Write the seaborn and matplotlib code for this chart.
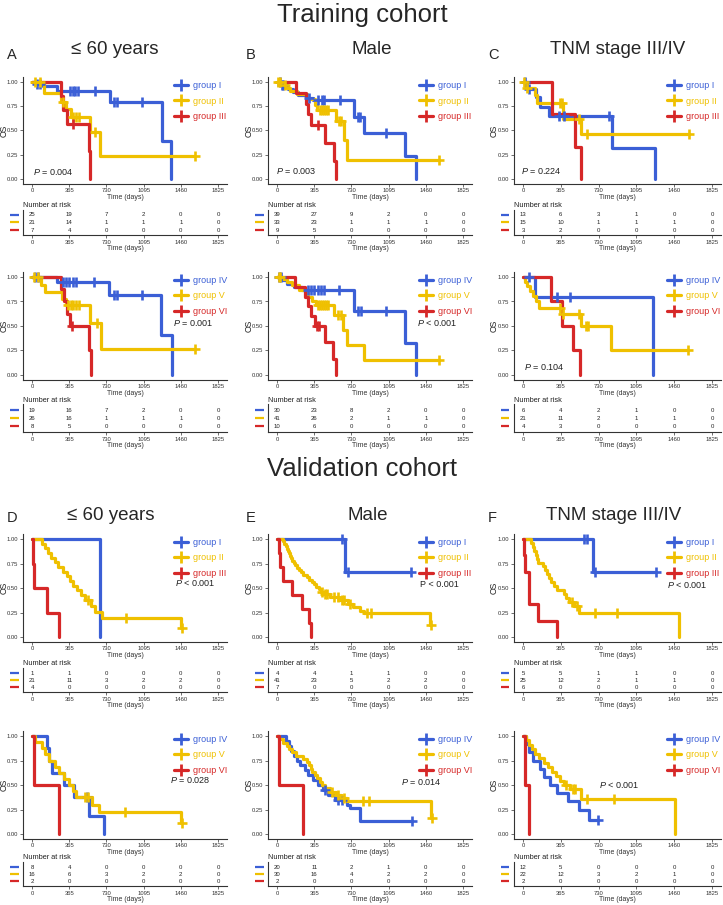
import numpy as np
import pandas as pd
import seaborn as sns
import matplotlib.pyplot as plt
from matplotlib.lines import Line2D
from matplotlib.transforms import blended_transform_factory

# ---------------- data ----------------
TICKS = [0, 365, 730, 1095, 1460, 1825]

# Training cohort, <= 60 years, groups I-III
A1_I_t = [0, 35, 110, 245, 768, 1275, 1364]
A1_I_s = [1, 0.98, 0.955, 0.91, 0.79, 0.39, 0]
A1_I_c = [49, 75, 376, 402, 425, 448, 621, 801, 834, 1079]
A1_II_t = [0, 120, 280, 330, 380, 570, 670]
A1_II_s = [1, 0.89, 0.79, 0.72, 0.64, 0.48, 0.24]
A1_II_c = [30, 80, 300, 400, 430, 460, 620, 1600]
A1_III_t = [0, 280, 300, 340, 555, 570]
A1_III_s = [1, 0.857, 0.714, 0.571, 0.286, 0]
A1_III_c = [402]
A1_risk = [[25, 19, 7, 2, 0, 0], [21, 14, 1, 1, 1, 0], [7, 4, 0, 0, 0, 0]]

# Training cohort, <= 60 years, groups IV-VI
A2_IV_t = [0, 250, 760, 1270, 1370]
A2_IV_s = [1, 0.947, 0.82, 0.41, 0]
A2_IV_c = [30, 60, 300, 330, 360, 400, 430, 610, 800, 830, 1080]
A2_V_t = [0, 90, 125, 290, 330, 565, 680]
A2_V_s = [1, 0.92, 0.85, 0.78, 0.71, 0.53, 0.265]
A2_V_c = [20, 60, 350, 380, 400, 430, 460, 640, 1600]
A2_VI_t = [0, 280, 310, 340, 370, 555, 575]
A2_VI_s = [1, 0.875, 0.75, 0.625, 0.5, 0.25, 0]
A2_VI_c = [390]
A2_risk = [[19, 16, 7, 2, 0, 0], [26, 16, 1, 1, 1, 0], [8, 5, 0, 0, 0, 0]]

# Training cohort, male, groups I-III
B1_I_t = [0, 40, 70, 110, 160, 210, 300, 350, 760, 850, 1260, 1360]
B1_I_s = [1, 0.974, 0.949, 0.923, 0.897, 0.87, 0.84, 0.81, 0.64, 0.47, 0.235, 0]
B1_I_c = [25, 45, 60, 310, 400, 440, 460, 620, 790, 810, 1065]
B1_II_t = [0, 60, 95, 130, 200, 290, 370, 390, 580, 660, 685]
B1_II_s = [1, 0.97, 0.94, 0.91, 0.88, 0.82, 0.76, 0.71, 0.60, 0.40, 0.20]
B1_II_c = [10, 30, 80, 420, 440, 460, 480, 500, 610, 630, 1590]
B1_III_t = [0, 185, 285, 300, 330, 475, 555, 575]
B1_III_s = [1, 0.889, 0.778, 0.667, 0.556, 0.37, 0.185, 0]
B1_III_c = [400]
B1_risk = [[39, 27, 9, 2, 0, 0], [33, 23, 1, 1, 1, 0], [9, 5, 0, 0, 0, 0]]

# Training cohort, male, groups IV-VI
B2_IV_t = [0, 50, 100, 170, 250, 760, 1260, 1360]
B2_IV_s = [1, 0.967, 0.933, 0.9, 0.867, 0.65, 0.325, 0]
B2_IV_c = [20, 40, 300, 330, 360, 400, 430, 460, 610, 790, 820, 1070]
B2_V_t = [0, 60, 100, 150, 220, 300, 340, 380, 560, 650, 685, 850]
B2_V_s = [1, 0.975, 0.95, 0.92, 0.87, 0.80, 0.76, 0.71, 0.61, 0.46, 0.31, 0.155]
B2_V_c = [15, 30, 400, 420, 440, 460, 480, 500, 600, 630, 1590]
B2_VI_t = [0, 180, 270, 300, 330, 370, 475, 550, 575]
B2_VI_s = [1, 0.9, 0.8, 0.7, 0.6, 0.5, 0.333, 0.167, 0]
B2_VI_c = [390, 410]
B2_risk = [[30, 23, 8, 2, 0, 0], [41, 26, 2, 1, 1, 0], [10, 6, 0, 0, 0, 0]]

# Training cohort, TNM III/IV, groups I-III
C1_I_t = [0, 40, 130, 165, 250, 860, 1270]
C1_I_s = [1, 0.923, 0.846, 0.74, 0.646, 0.323, 0]
C1_I_c = [15, 55, 350, 395, 830]
C1_II_t = [0, 25, 120, 140, 390, 560]
C1_II_s = [1, 0.933, 0.867, 0.78, 0.62, 0.465]
C1_II_c = [10, 40, 360, 375, 545, 620, 1600]
C1_III_t = [0, 280, 500, 560]
C1_III_s = [1, 0.667, 0.333, 0]
C1_III_c = []
C1_risk = [[13, 6, 3, 1, 0, 0], [15, 10, 1, 1, 1, 0], [3, 2, 0, 0, 0, 0]]

# Training cohort, TNM III/IV, groups IV-VI
C2_IV_t = [0, 120, 1260]
C2_IV_s = [1, 0.8, 0]
C2_IV_c = [60, 330, 450]
C2_V_t = [0, 15, 40, 70, 100, 130, 150, 380, 560, 850]
C2_V_s = [1, 0.952, 0.905, 0.857, 0.81, 0.76, 0.68, 0.62, 0.50, 0.25]
C2_V_c = [360, 390, 540, 610, 630, 1590]
C2_VI_t = [0, 270, 380, 480, 555]
C2_VI_s = [1, 0.75, 0.5, 0.25, 0]
C2_VI_c = []
C2_risk = [[6, 4, 2, 1, 0, 0], [21, 11, 2, 1, 1, 0], [4, 3, 0, 0, 0, 0]]

# Validation cohort, <= 60 years, groups I-III
D1_I_t = [0, 668]
D1_I_s = [1, 0]
D1_I_c = []
D1_II_t = [0, 95, 130, 160, 190, 225, 260, 300, 340, 375, 400, 440, 480, 520, 580, 620, 690, 1460]
D1_II_s = [1, 0.952, 0.905, 0.857, 0.81, 0.762, 0.714, 0.667, 0.619, 0.571, 0.524, 0.476,
           0.429, 0.381, 0.318, 0.254, 0.19, 0.095]
D1_II_c = [545, 920, 1470]
D1_III_t = [0, 10, 18, 147, 262]
D1_III_s = [1, 0.75, 0.5, 0.25, 0]
D1_III_c = []
D1_risk = [[1, 1, 0, 0, 0, 0], [21, 11, 3, 2, 2, 0], [4, 0, 0, 0, 0, 0]]

# Validation cohort, <= 60 years, groups IV-VI
D2_IV_t = [0, 147, 170, 196, 310, 408, 555, 708]
D2_IV_s = [1, 0.875, 0.75, 0.625, 0.5, 0.375, 0.1875, 0]
D2_IV_c = [540]
D2_V_t = [0, 25, 95, 130, 165, 230, 265, 310, 360, 400, 430, 590, 655, 1465]
D2_V_s = [1, 0.9375, 0.875, 0.8125, 0.75, 0.6875, 0.625, 0.5625, 0.5, 0.4375, 0.375, 0.30, 0.225, 0.1125]
D2_V_c = [520, 545, 915, 1470]
D2_VI_t = [0, 16, 261]
D2_VI_s = [1, 0.5, 0]
D2_VI_c = []
D2_risk = [[8, 4, 0, 0, 0, 0], [16, 6, 3, 2, 2, 0], [2, 0, 0, 0, 0, 0]]

# Validation cohort, male, groups I-III
E1_I_t = [0, 668]
E1_I_s = [1, 0.667]
E1_I_c = [640, 700, 1310]
E1_II_t = [0, 60, 72, 85, 95, 105, 115, 125, 137, 150, 165, 180, 200, 218, 240, 260, 290, 310,
           340, 360, 385, 410, 430, 460, 520, 610, 700, 750, 815, 850, 1505]
E1_II_s = [1, 0.976, 0.951, 0.927, 0.902, 0.878, 0.854, 0.829, 0.805, 0.78, 0.756, 0.732, 0.707,
           0.683, 0.659, 0.634, 0.61, 0.585, 0.561, 0.537, 0.512, 0.488, 0.463, 0.44, 0.41,
           0.375, 0.34, 0.305, 0.27, 0.24, 0.12]
E1_II_c = [440, 470, 490, 560, 600, 640, 660, 720, 880, 920, 1515]
E1_III_t = [0, 15, 30, 55, 150, 250, 315, 330]
E1_III_s = [1, 0.857, 0.714, 0.571, 0.429, 0.286, 0.143, 0]
E1_III_c = []
E1_risk = [[4, 4, 1, 1, 0, 0], [41, 23, 5, 2, 2, 0], [7, 0, 0, 0, 0, 0]]

# Validation cohort, male, groups IV-VI
E2_IV_t = [0, 90, 120, 140, 170, 200, 230, 270, 300, 350, 400, 450, 500, 565, 690, 720, 810]
E2_IV_s = [1, 0.95, 0.90, 0.85, 0.80, 0.75, 0.70, 0.65, 0.60, 0.55, 0.50, 0.45, 0.40, 0.35,
           0.30, 0.265, 0.133]
E2_IV_c = [470, 600, 640, 1320]
E2_V_t = [0, 20, 60, 95, 120, 150, 190, 260, 290, 310, 330, 345, 370, 390, 420, 440, 470, 520,
          580, 630, 690, 1515]
E2_V_s = [1, 0.967, 0.933, 0.90, 0.867, 0.833, 0.80, 0.767, 0.733, 0.70, 0.667, 0.633, 0.60,
          0.567, 0.533, 0.50, 0.467, 0.433, 0.40, 0.37, 0.333, 0.167]
E2_V_c = [540, 600, 660, 840, 900, 1525]
E2_VI_t = [0, 16, 253]
E2_VI_s = [1, 0.5, 0]
E2_VI_c = []
E2_risk = [[20, 11, 2, 1, 0, 0], [30, 16, 4, 2, 2, 0], [2, 0, 0, 0, 0, 0]]

# Validation cohort, TNM III/IV, groups I-III
F1_I_t = [0, 672]
F1_I_s = [1, 0.667]
F1_I_c = [590, 620, 700, 1280]
F1_II_t = [0, 80, 95, 110, 125, 135, 145, 190, 210, 235, 255, 275, 300, 330, 400, 415, 440,
           490, 540, 1505]
F1_II_s = [1, 0.96, 0.92, 0.88, 0.84, 0.80, 0.76, 0.72, 0.68, 0.64, 0.60, 0.56, 0.52, 0.48,
           0.44, 0.40, 0.36, 0.32, 0.24, 0]
F1_II_c = [470, 520, 700, 910]
F1_III_t = [0, 8, 15, 60, 145, 325]
F1_III_s = [1, 0.833, 0.667, 0.333, 0.167, 0]
F1_III_c = []
F1_risk = [[5, 5, 1, 1, 0, 0], [25, 12, 2, 1, 1, 0], [6, 0, 0, 0, 0, 0]]

# Validation cohort, TNM III/IV, groups IV-VI
F2_IV_t = [0, 30, 60, 100, 160, 200, 260, 330, 430, 540, 640]
F2_IV_s = [1, 0.917, 0.833, 0.75, 0.667, 0.583, 0.5, 0.417, 0.333, 0.25, 0.14]
F2_IV_c = [720]
F2_V_t = [0, 30, 60, 90, 120, 150, 200, 240, 280, 320, 360, 400, 450, 560, 1470]
F2_V_s = [1, 0.955, 0.909, 0.864, 0.818, 0.773, 0.727, 0.682, 0.636, 0.591, 0.545, 0.50,
          0.455, 0.36, 0]
F2_V_c = [420, 480, 500, 620, 880]
F2_VI_t = [0, 20, 55]
F2_VI_s = [1, 0.5, 0]
F2_VI_c = []
F2_risk = [[12, 5, 0, 0, 0, 0], [22, 12, 3, 2, 1, 0], [2, 0, 0, 0, 0, 0]]

P_TEXT = {
    'A1': '$P$ = 0.004', 'A2': '$P$ = 0.001', 'B1': '$P$ = 0.003', 'B2': '$P$ < 0.001',
    'C1': '$P$ = 0.224', 'C2': '$P$ = 0.104', 'D1': '$P$ < 0.001', 'D2': '$P$ = 0.028',
    'E1': 'P < 0.001', 'E2': '$P$ = 0.014', 'F1': '$P$ < 0.001', 'F2': '$P$ < 0.001',
}
LABELS_1 = ['group I', 'group II', 'group III']
LABELS_2 = ['group IV', 'group V', 'group VI']

# ---------------- style ----------------
COLORS = ['#3B5FD6', '#EFC000', '#D62828']
W, H = 723, 905

sns.set_theme(style='ticks')
plt.rcParams['font.family'] = ['Liberation Sans', 'DejaVu Sans']
plt.rcParams['mathtext.fontset'] = 'custom'
plt.rcParams['mathtext.rm'] = 'Liberation Sans'
plt.rcParams['mathtext.it'] = 'Liberation Sans:italic'

fig = plt.figure(figsize=(W / 100, H / 100), dpi=100)


def box(l, t, r, b):
    return [l / W, 1 - b / H, (r - l) / W, (b - t) / H]


COLS = [(32, 218), (277, 463), (523, 712)]          # px of day 0 / day 1825
KM_ROWS = [(82, 179), (277, 375), (539, 637), (736, 834)]   # px of OS 1.00 / 0.00
TAB_ROWS = [(215, 230, 235), (410, 426, 432), (673, 687, 692), (867, 881, 886)]
XLIM = (-91.25, 1916.25)

# P-value position in axes fraction per panel
P_POS = {'A1': (0.05, 0.11), 'A2': (0.735, 0.53), 'B1': (0.04, 0.12), 'B2': (0.73, 0.53),
         'C1': (0.035, 0.12), 'C2': (0.05, 0.12), 'D1': (0.745, 0.55), 'D2': (0.72, 0.55),
         'E1': (0.745, 0.53), 'E2': (0.65, 0.53), 'F1': (0.74, 0.53), 'F2': (0.41, 0.50)}

PANELS = [
    ('A1', 0, 0, [(A1_I_t, A1_I_s, A1_I_c), (A1_II_t, A1_II_s, A1_II_c), (A1_III_t, A1_III_s, A1_III_c)], A1_risk, LABELS_1),
    ('A2', 0, 1, [(A2_IV_t, A2_IV_s, A2_IV_c), (A2_V_t, A2_V_s, A2_V_c), (A2_VI_t, A2_VI_s, A2_VI_c)], A2_risk, LABELS_2),
    ('B1', 1, 0, [(B1_I_t, B1_I_s, B1_I_c), (B1_II_t, B1_II_s, B1_II_c), (B1_III_t, B1_III_s, B1_III_c)], B1_risk, LABELS_1),
    ('B2', 1, 1, [(B2_IV_t, B2_IV_s, B2_IV_c), (B2_V_t, B2_V_s, B2_V_c), (B2_VI_t, B2_VI_s, B2_VI_c)], B2_risk, LABELS_2),
    ('C1', 2, 0, [(C1_I_t, C1_I_s, C1_I_c), (C1_II_t, C1_II_s, C1_II_c), (C1_III_t, C1_III_s, C1_III_c)], C1_risk, LABELS_1),
    ('C2', 2, 1, [(C2_IV_t, C2_IV_s, C2_IV_c), (C2_V_t, C2_V_s, C2_V_c), (C2_VI_t, C2_VI_s, C2_VI_c)], C2_risk, LABELS_2),
    ('D1', 0, 2, [(D1_I_t, D1_I_s, D1_I_c), (D1_II_t, D1_II_s, D1_II_c), (D1_III_t, D1_III_s, D1_III_c)], D1_risk, LABELS_1),
    ('D2', 0, 3, [(D2_IV_t, D2_IV_s, D2_IV_c), (D2_V_t, D2_V_s, D2_V_c), (D2_VI_t, D2_VI_s, D2_VI_c)], D2_risk, LABELS_2),
    ('E1', 1, 2, [(E1_I_t, E1_I_s, E1_I_c), (E1_II_t, E1_II_s, E1_II_c), (E1_III_t, E1_III_s, E1_III_c)], E1_risk, LABELS_1),
    ('E2', 1, 3, [(E2_IV_t, E2_IV_s, E2_IV_c), (E2_V_t, E2_V_s, E2_V_c), (E2_VI_t, E2_VI_s, E2_VI_c)], E2_risk, LABELS_2),
    ('F1', 2, 2, [(F1_I_t, F1_I_s, F1_I_c), (F1_II_t, F1_II_s, F1_II_c), (F1_III_t, F1_III_s, F1_III_c)], F1_risk, LABELS_1),
    ('F2', 2, 3, [(F2_IV_t, F2_IV_s, F2_IV_c), (F2_V_t, F2_V_s, F2_V_c), (F2_VI_t, F2_VI_s, F2_VI_c)], F2_risk, LABELS_2),
]

AX_COLOR = '#333333'


def style_axis(ax):
    for sp in ['top', 'right']:
        ax.spines[sp].set_visible(False)
    for sp in ['left', 'bottom']:
        ax.spines[sp].set_linewidth(0.8)
        ax.spines[sp].set_color(AX_COLOR)
    ax.tick_params(labelsize=4.2, length=2, width=0.5, pad=1.3, colors=AX_COLOR)


def draw_km(ax, t, s, c, color):
    tt, ss = list(t), list(s)
    if c and max(c) > tt[-1]:
        tt.append(max(c))
        ss.append(ss[-1])
    df = pd.DataFrame({'time': tt, 'surv': ss})
    sns.lineplot(data=df, x='time', y='surv', drawstyle='steps-post', color=color,
                 lw=2.3, estimator=None, sort=False, ax=ax)
    if c:
        idx = np.searchsorted(np.array(t), np.array(c), side='right') - 1
        cy = np.array(s)[idx]
        ax.plot(c, cy, ls='none', marker='+', ms=7.5, mew=1.9, color=color, zorder=4)


for key, col, row, groups, risk, labels in PANELS:
    x0, x1 = COLS[col]
    pxd = (x1 - x0) / 1825.0
    left, right = x0 - 91.25 * pxd, x1 + 91.25 * pxd
    axw = right - left

    # survival curves
    y1, y0 = KM_ROWS[row]
    u = y0 - y1
    ax = fig.add_axes(box(left, y1 - 0.05 * u, right, y0 + 0.05 * u))
    for (t, s, c), color in zip(groups, COLORS):
        draw_km(ax, t, s, c, color)
    ax.set_xlim(*XLIM)
    ax.set_ylim(-0.05, 1.05)
    ax.set_xticks(TICKS)
    ax.set_yticks([0, 0.25, 0.5, 0.75, 1.0])
    ax.set_yticklabels(['0.00', '0.25', '0.50', '0.75', '1.00'])
    style_axis(ax)
    ax.set_xlabel('Time (days)', fontsize=5, labelpad=0.5, color=AX_COLOR)
    ax.set_ylabel('OS', fontsize=6.2, color='#222222')
    ax.yaxis.set_label_coords(-14.5 / axw, 0.5)
    handles = [Line2D([], [], color=cl, lw=2.3, marker='+', ms=8, mew=2) for cl in COLORS]
    ax.legend(handles, labels, loc='upper left', bbox_to_anchor=(0.72, 1.0), frameon=False,
              fontsize=6.5, handlelength=1.6, handletextpad=0.5, labelspacing=0.75,
              borderaxespad=0, labelcolor=COLORS)
    px, py = P_POS[key]
    ax.text(px, py, P_TEXT[key], transform=ax.transAxes, fontsize=6.5, ha='left', va='center',
            color='#222222')

    # risk table
    rb, rr, rbot = TAB_ROWS[row]
    unit = (rr - rb) / 2.0
    ylo = 1 - (rbot - rr) / unit
    yhi = 3.7
    tax = fig.add_axes(box(left, rb - 0.7 * unit, right, rbot))
    tax.set_xlim(*XLIM)
    tax.set_ylim(ylo, yhi)
    tax.set_xticks(TICKS)
    tax.set_yticks([])
    style_axis(tax)
    tax.set_facecolor('none')
    for j, (vals, color) in enumerate(zip(risk, COLORS)):
        for tk, v in zip(TICKS, vals):
            tax.text(tk, 3 - j, str(v), ha='center', va='center', fontsize=4.3, color='#222222')
        trans = blended_transform_factory(tax.transAxes, tax.transData)
        tax.plot([-0.062, -0.02], [3 - j, 3 - j], transform=trans, color=color, lw=1.6,
                 clip_on=False, solid_capstyle='butt')
    tax.set_title('Number at risk', loc='left', fontsize=5.3, pad=2, color='#222222')
    tax.set_xlabel('Time (days)', fontsize=5, labelpad=0.3, color=AX_COLOR)

# headings
fig.text(362 / W, 1 - 15 / H, 'Training cohort', ha='center', va='center', fontsize=18.5)
fig.text(362 / W, 1 - 469 / H, 'Validation cohort', ha='center', va='center', fontsize=18.5)

SUBTITLES = ['≤ 60 years', 'Male', 'TNM stage III/IV']
SUB_X = [115, 372, 618]
LETTER_X = [7, 246, 488]
for i, (sub, sx, lx) in enumerate(zip(SUBTITLES, SUB_X, LETTER_X)):
    fig.text(sx / W, 1 - 50 / H, sub, ha='center', va='center', fontsize=13.5)
    fig.text(sx / W - 4 / W, 1 - 515 / H, sub, ha='center', va='center', fontsize=13.5)
    fig.text(lx / W, 1 - 55 / H, 'ABC'[i], ha='left', va='center', fontsize=10.5)
    fig.text(lx / W, 1 - 518 / H, 'DEF'[i], ha='left', va='center', fontsize=10.5)

fig.savefig('out.png', dpi=100)
